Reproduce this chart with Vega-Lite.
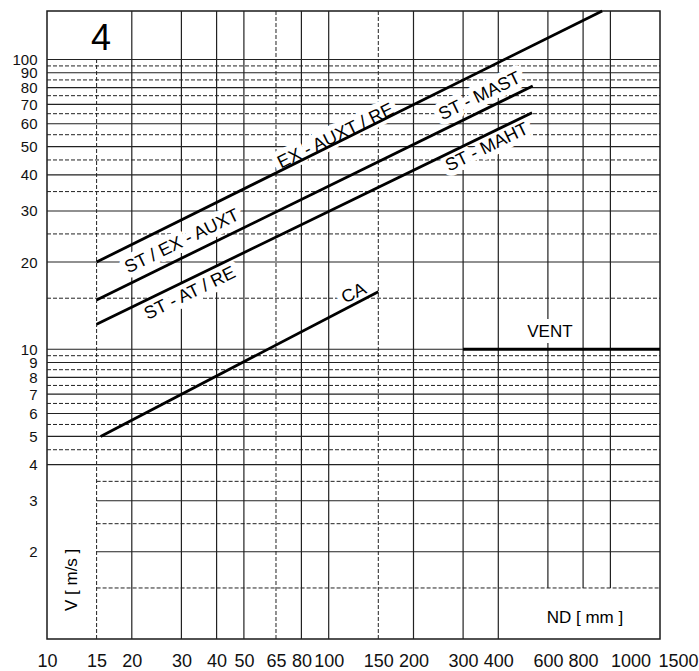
{
  "$schema": "https://vega.github.io/schema/vega-lite/v6.json",
  "width": 613,
  "height": 628,
  "autosize": {"type": "none"},
  "padding": {"left": 47, "top": 11, "right": 39, "bottom": 32},
  "config": {"view": {"stroke": "#1a1a1a", "strokeWidth": 1.5}, "font": "Liberation Sans"},
  "datasets": {
    "vgrid": [
      {"x": 15, "y": 1, "y2": 100, "type": "minor"},
      {"x": 20, "y": 1, "y2": 147, "type": "major"},
      {"x": 30, "y": 1, "y2": 147, "type": "major"},
      {"x": 40, "y": 1, "y2": 147, "type": "major"},
      {"x": 50, "y": 1, "y2": 147, "type": "major"},
      {"x": 65, "y": 1, "y2": 147, "type": "minor"},
      {"x": 80, "y": 1, "y2": 147, "type": "major"},
      {"x": 100, "y": 1, "y2": 147, "type": "major"},
      {"x": 150, "y": 1, "y2": 147, "type": "minor"},
      {"x": 200, "y": 1, "y2": 147, "type": "major"},
      {"x": 300, "y": 1, "y2": 147, "type": "major"},
      {"x": 400, "y": 1, "y2": 147, "type": "major"},
      {"x": 600, "y": 1.5, "y2": 147, "type": "major"},
      {"x": 800, "y": 1.5, "y2": 147, "type": "major"},
      {"x": 1000, "y": 1.5, "y2": 147, "type": "major"}
    ],
    "hgrid": [
      {"y": 1.5, "x": 15, "x2": 1500, "type": "minor"},
      {"y": 2, "x": 15, "x2": 1500, "type": "major"},
      {"y": 2.5, "x": 15, "x2": 1500, "type": "minor"},
      {"y": 3, "x": 15, "x2": 1500, "type": "major"},
      {"y": 3.5, "x": 15, "x2": 1500, "type": "minor"},
      {"y": 4, "x": 10, "x2": 1500, "type": "major"},
      {"y": 4.5, "x": 10, "x2": 1500, "type": "minor"},
      {"y": 5, "x": 10, "x2": 1500, "type": "major"},
      {"y": 5.5, "x": 10, "x2": 1500, "type": "minor"},
      {"y": 6, "x": 10, "x2": 1500, "type": "major"},
      {"y": 6.5, "x": 10, "x2": 1500, "type": "minor"},
      {"y": 7, "x": 10, "x2": 1500, "type": "major"},
      {"y": 7.5, "x": 10, "x2": 1500, "type": "minor"},
      {"y": 8, "x": 10, "x2": 1500, "type": "major"},
      {"y": 8.5, "x": 10, "x2": 1500, "type": "minor"},
      {"y": 9, "x": 10, "x2": 1500, "type": "major"},
      {"y": 9.5, "x": 10, "x2": 1500, "type": "minor"},
      {"y": 10, "x": 10, "x2": 1500, "type": "major"},
      {"y": 15, "x": 10, "x2": 1500, "type": "minor"},
      {"y": 20, "x": 10, "x2": 1500, "type": "major"},
      {"y": 25, "x": 10, "x2": 1500, "type": "minor"},
      {"y": 30, "x": 10, "x2": 1500, "type": "major"},
      {"y": 35, "x": 10, "x2": 1500, "type": "minor"},
      {"y": 40, "x": 10, "x2": 1500, "type": "major"},
      {"y": 45, "x": 10, "x2": 1500, "type": "minor"},
      {"y": 50, "x": 10, "x2": 1500, "type": "major"},
      {"y": 55, "x": 10, "x2": 1500, "type": "minor"},
      {"y": 60, "x": 10, "x2": 1500, "type": "major"},
      {"y": 65, "x": 10, "x2": 1500, "type": "minor"},
      {"y": 70, "x": 10, "x2": 1500, "type": "major"},
      {"y": 75, "x": 10, "x2": 1500, "type": "minor"},
      {"y": 80, "x": 10, "x2": 1500, "type": "major"},
      {"y": 85, "x": 10, "x2": 1500, "type": "minor"},
      {"y": 90, "x": 10, "x2": 1500, "type": "major"},
      {"y": 95, "x": 10, "x2": 1500, "type": "minor"},
      {"y": 100, "x": 10, "x2": 1500, "type": "major"}
    ],
    "lines": [
      {"s": "ST / EX - AUXT", "x": 15, "y": 20},
      {"s": "ST / EX - AUXT", "x": 935, "y": 147},
      {"s": "ST - MAST", "x": 15, "y": 14.8},
      {"s": "ST - MAST", "x": 530, "y": 81},
      {"s": "ST - MAHT", "x": 15, "y": 12.2},
      {"s": "ST - MAHT", "x": 527, "y": 65.5},
      {"s": "CA", "x": 15.5, "y": 5},
      {"s": "CA", "x": 150, "y": 15.8},
      {"s": "VENT", "x": 300, "y": 10},
      {"s": "VENT", "x": 1500, "y": 10}
    ],
    "labels": [
      {"kind": "line", "label": "EX - AUXT / RE", "x": 106, "y": 54.2},
      {"kind": "line", "label": "ST - MAST", "x": 344, "y": 74.5},
      {"kind": "line", "label": "ST - MAHT", "x": 365, "y": 49.6},
      {"kind": "line", "label": "ST / EX - AUXT", "x": 30.2, "y": 23.5},
      {"kind": "line", "label": "ST - AT / RE", "x": 32.2, "y": 15.55},
      {"kind": "line", "label": "CA", "x": 123, "y": 15.55},
      {"kind": "note", "label": "VENT", "x": 610, "y": 11.5},
      {"kind": "note", "label": "ND [ mm ]", "x": 812, "y": 1.18},
      {"kind": "big", "label": "4", "x": 15.55, "y": 118},
      {"kind": "vtitle", "label": "V [ m/s ]", "x": 12.27, "y": 1.6}
    ]
  },
  "encoding": {
    "x": {
      "field": "x", "type": "quantitative", "title": null,
      "scale": {"type": "log", "domain": [10, 1500], "nice": false},
      "axis": {
        "values": [10, 15, 20, 30, 40, 50, 65, 80, 100, 150, 200, 300, 400, 600, 800, 1000, 1500],
        "grid": false, "ticks": false, "tickSize": 0, "domain": false,
        "labelFontSize": 18, "labelFont": "Liberation Sans", "labelColor": "#111",
        "labelPadding": 22, "labelBaseline": "middle", "labelFlush": false, "labelOverlap": false,
        "labelAlign": {"condition": {"test": "datum.value >= 1000", "value": "left"}, "value": "center"},
        "labelOffset": {"condition": {"test": "datum.value >= 1500", "value": -2}, "value": 0},
        "labelExpr": "toString(datum.value)"
      }
    },
    "y": {
      "field": "y", "type": "quantitative", "title": null,
      "scale": {"type": "log", "domain": [1, 147], "nice": false},
      "axis": {
        "values": [2, 3, 4, 5, 6, 7, 8, 9, 10, 20, 30, 40, 50, 60, 70, 80, 90, 100],
        "grid": false, "ticks": false, "tickSize": 0, "domain": false,
        "labelFontSize": 15, "labelFont": "Liberation Sans", "labelColor": "#111",
        "labelPadding": 10, "labelOverlap": false,
        "labelExpr": "toString(datum.value)"
      }
    }
  },
  "layer": [
    {
      "data": {"name": "vgrid"},
      "mark": {"type": "rule", "color": "#222"},
      "encoding": {
        "y2": {"field": "y2"},
        "strokeDash": {"field": "type", "type": "nominal", "scale": {"domain": ["major", "minor"], "range": [[1, 0], [4, 2]]}, "legend": null},
        "strokeWidth": {"field": "type", "type": "nominal", "scale": {"domain": ["major", "minor"], "range": [1.2, 1]}, "legend": null}
      }
    },
    {
      "data": {"name": "hgrid"},
      "mark": {"type": "rule", "color": "#222"},
      "encoding": {
        "x2": {"field": "x2"},
        "strokeDash": {"field": "type", "type": "nominal", "scale": {"domain": ["major", "minor"], "range": [[1, 0], [4, 2]]}, "legend": null},
        "strokeWidth": {"field": "type", "type": "nominal", "scale": {"domain": ["major", "minor"], "range": [1.2, 1]}, "legend": null}
      }
    },
    {
      "data": {"name": "labels"},
      "transform": [{"filter": "datum.kind == 'line'"}],
      "mark": {"type": "text", "angle": -26, "fontSize": 18, "font": "Liberation Sans", "fill": "white", "stroke": "white", "strokeWidth": 11, "strokeJoin": "round", "align": "center", "baseline": "middle"},
      "encoding": {"text": {"field": "label"}}
    },
    {
      "data": {"name": "labels"},
      "transform": [{"filter": "datum.kind == 'note'"}],
      "mark": {"type": "text", "fontSize": 17, "font": "Liberation Sans", "fill": "white", "stroke": "white", "strokeWidth": 12, "strokeJoin": "round", "align": "center", "baseline": "middle"},
      "encoding": {"text": {"field": "label"}}
    },
    {
      "data": {"name": "lines"},
      "mark": {"type": "line", "color": "black", "strokeWidth": 2.8, "strokeCap": "butt"},
      "encoding": {"detail": {"field": "s"}}
    },
    {
      "data": {"name": "labels"},
      "transform": [{"filter": "datum.kind == 'line'"}],
      "mark": {"type": "text", "angle": -26, "fontSize": 18, "font": "Liberation Sans", "color": "black", "align": "center", "baseline": "middle"},
      "encoding": {"text": {"field": "label"}}
    },
    {
      "data": {"name": "labels"},
      "transform": [{"filter": "datum.kind == 'note'"}],
      "mark": {"type": "text", "fontSize": 17, "font": "Liberation Sans", "color": "black", "align": "center", "baseline": "middle"},
      "encoding": {"text": {"field": "label"}}
    },
    {
      "data": {"name": "labels"},
      "transform": [{"filter": "datum.kind == 'big'"}],
      "mark": {"type": "text", "fontSize": 36, "font": "Liberation Sans", "color": "black", "align": "center", "baseline": "middle"},
      "encoding": {"text": {"field": "label"}}
    },
    {
      "data": {"name": "labels"},
      "transform": [{"filter": "datum.kind == 'vtitle'"}],
      "mark": {"type": "text", "angle": -90, "fontSize": 17, "font": "Liberation Sans", "color": "black", "align": "center", "baseline": "middle"},
      "encoding": {"text": {"field": "label"}}
    }
  ]
}
